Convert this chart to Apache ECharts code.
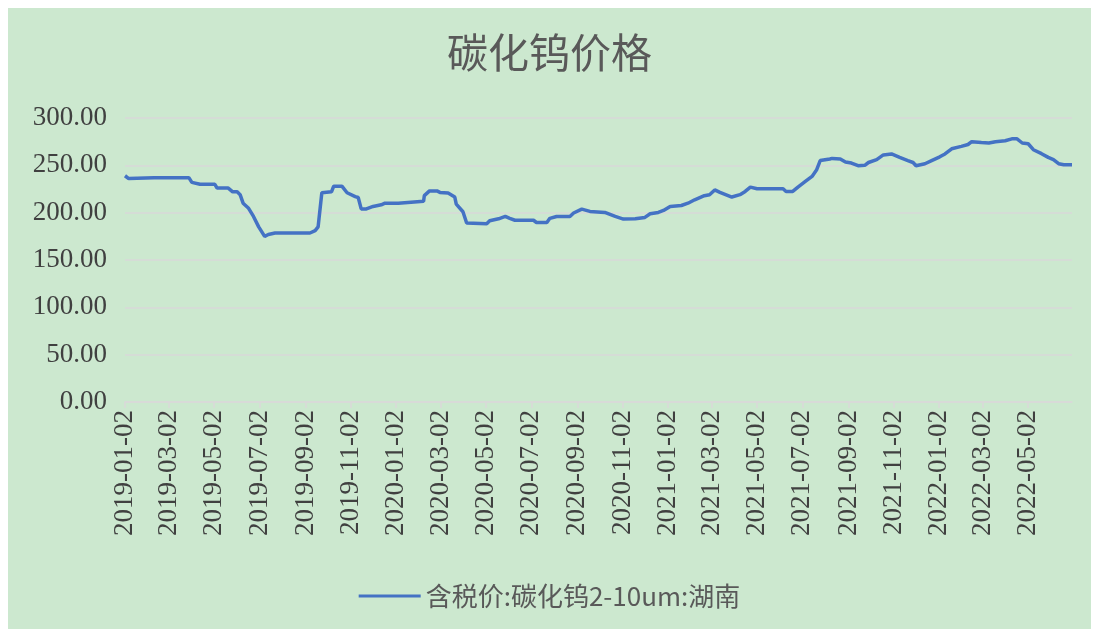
<!DOCTYPE html>
<html>
<head>
<meta charset="utf-8">
<script src="https://cdn.jsdelivr.net/npm/echarts@6/dist/echarts.min.js"></script>
<style>
html,body{margin:0;padding:0;background:#ffffff;}
#chart{position:absolute;left:8px;top:8px;width:1083px;height:621px;background:#cce8cf;}
</style>
</head>
<body>
<div id="chart"></div>
<script>
// ---- data ----
const title = '碳化钨价格';
const seriesName = '含税价:碳化钨2-10um:湖南';
const startDate = '2019-01-02';
const endDate = '2022-06-30';
const priceDates = [
 '2019-01-02','2019-01-07','2019-02-10','2019-03-29','2019-04-02','2019-04-13','2019-05-03','2019-05-06',
 '2019-05-21','2019-05-27','2019-06-02','2019-06-06','2019-06-10','2019-06-17','2019-06-24','2019-07-01',
 '2019-07-09','2019-07-14','2019-07-23','2019-09-08','2019-09-15','2019-09-19','2019-09-24','2019-10-07',
 '2019-10-10','2019-10-21','2019-10-28','2019-11-08','2019-11-12','2019-11-16','2019-11-23','2019-12-02',
 '2019-12-13','2019-12-18','2020-01-05','2020-01-07','2020-02-08','2020-02-09','2020-02-16','2020-02-26',
 '2020-03-01','2020-03-12','2020-03-21','2020-03-23','2020-04-01','2020-04-06','2020-05-03','2020-05-07',
 '2020-05-19','2020-05-28','2020-06-03','2020-06-10','2020-07-05','2020-07-09','2020-07-23','2020-07-27',
 '2020-08-05','2020-08-23','2020-08-28','2020-09-08','2020-09-19','2020-10-09','2020-10-23','2020-11-03',
 '2020-11-19','2020-12-02','2020-12-09','2020-12-20','2020-12-27','2021-01-05','2021-01-20','2021-01-29',
 '2021-02-07','2021-02-20','2021-02-27','2021-03-06','2021-03-13','2021-03-29','2021-04-09','2021-04-16',
 '2021-04-23','2021-05-02','2021-06-06','2021-06-10','2021-06-19','2021-06-26','2021-07-06','2021-07-15',
 '2021-07-21','2021-07-26','2021-08-08','2021-08-11','2021-08-22','2021-08-29','2021-09-06','2021-09-15',
 '2021-09-24','2021-09-29','2021-10-10','2021-10-19','2021-10-30','2021-11-10','2021-11-21','2021-11-28',
 '2021-12-02','2021-12-14','2021-12-23','2022-01-03','2022-01-10','2022-01-19','2022-02-01','2022-02-10',
 '2022-02-15','2022-02-28','2022-03-10','2022-03-19','2022-04-01','2022-04-10','2022-04-17','2022-04-24',
 '2022-05-02','2022-05-09','2022-05-20','2022-05-29','2022-06-05','2022-06-12','2022-06-19','2022-06-30'
];
const priceValues = [
 239,236,237,237,232,230,230,226,
 226,222,222,219,210,205,196,185,
 175,177,178.5,178.5,181,185,221,222,
 228,228,221,217,216,204,204,206.6,
 208.3,210,210,212,212,218,223,223,
 221.4,220.7,216.5,209,201,189,188.3,191.4,
 193.5,196,194,192,192,189.6,189.6,194,
 196,196,199.6,203.8,201.3,200.2,196,193.2,
 193.5,195,198.8,200.2,202.3,206.6,207.6,210,
 213.6,217.9,219,224,221.4,216.5,219,222.4,
 227,225.3,225.3,222.4,222.4,227,233,238.3,
 245,255,256.7,257.3,256.7,253.5,252.4,249.6,
 250,253,256,261,262,258.4,255,253,
 249.6,251.7,255,259,262,267.5,270,272,
 275,274.2,273.6,275,276,278,278,273.6,
 272.8,266.5,262.3,258.4,256,251.7,250.6,250.6
];
const yTicks = [0, 50, 100, 150, 200, 250, 300];

// ---- build axis categories (calendar days) ----
function pad(n){return (n<10?'0':'')+n;}
const categories = [];
{
  const d = new Date(startDate + 'T00:00:00Z');
  const end = new Date(endDate + 'T00:00:00Z');
  while (d <= end) {
    categories.push(d.getUTCFullYear() + '-' + pad(d.getUTCMonth()+1) + '-' + pad(d.getUTCDate()));
    d.setUTCDate(d.getUTCDate()+1);
  }
}
function isTick(idx, val) {
  const m = parseInt(val.slice(5,7),10);
  return val.slice(8,10) === '02' && (m % 2 === 1);
}
const seriesData = priceDates.map((d, i) => [d, priceValues[i]]);

const chart = echarts.init(document.getElementById('chart'), null, {renderer:'canvas'});
const numFont = 'Liberation Serif';
chart.setOption({
  backgroundColor: '#cce8cf',
  animation: false,
  title: {
    text: title,
    left: 'center',
    top: 19,
    textStyle: {fontFamily: 'Noto Sans CJK SC', fontSize: 41, fontWeight: 'normal', color: '#595959'}
  },
  legend: {
    bottom: 15,
    left: 'center',
    icon: 'rect',
    itemWidth: 62,
    itemHeight: 3,
    itemGap: 10,
    textStyle: {fontFamily: 'Noto Sans CJK SC', fontSize: 26, color: '#595959'},
    data: [seriesName]
  },
  grid: {left: 117, right: 19, top: 110, bottom: 227, containLabel: false},
  xAxis: {
    type: 'category',
    data: categories,
    boundaryGap: false,
    axisLine: {lineStyle: {color: '#d9d9d9', width: 1.5}},
    axisTick: {show: true, interval: isTick, length: 6, lineStyle: {color: '#d9d9d9', width: 1.5}},
    axisLabel: {
      interval: isTick,
      rotate: 90,
      margin: 8,
      fontFamily: numFont,
      fontSize: 27,
      color: '#404040'
    },
    splitLine: {show: false}
  },
  yAxis: {
    type: 'value',
    min: yTicks[0],
    max: yTicks[yTicks.length-1],
    interval: 50,
    axisLine: {show: false},
    axisTick: {show: false},
    axisLabel: {
      margin: 18,
      fontFamily: numFont,
      fontSize: 27,
      color: '#404040',
      formatter: v => v.toFixed(2)
    },
    splitLine: {lineStyle: {color: '#d9d9d9', width: 1.5}}
  },
  series: [{
    name: seriesName,
    type: 'line',
    data: seriesData,
    symbol: 'none',
    lineStyle: {color: '#4472c4', width: 3.5},
    itemStyle: {color: '#4472c4'}
  }]
});
</script>
</body>
</html>
